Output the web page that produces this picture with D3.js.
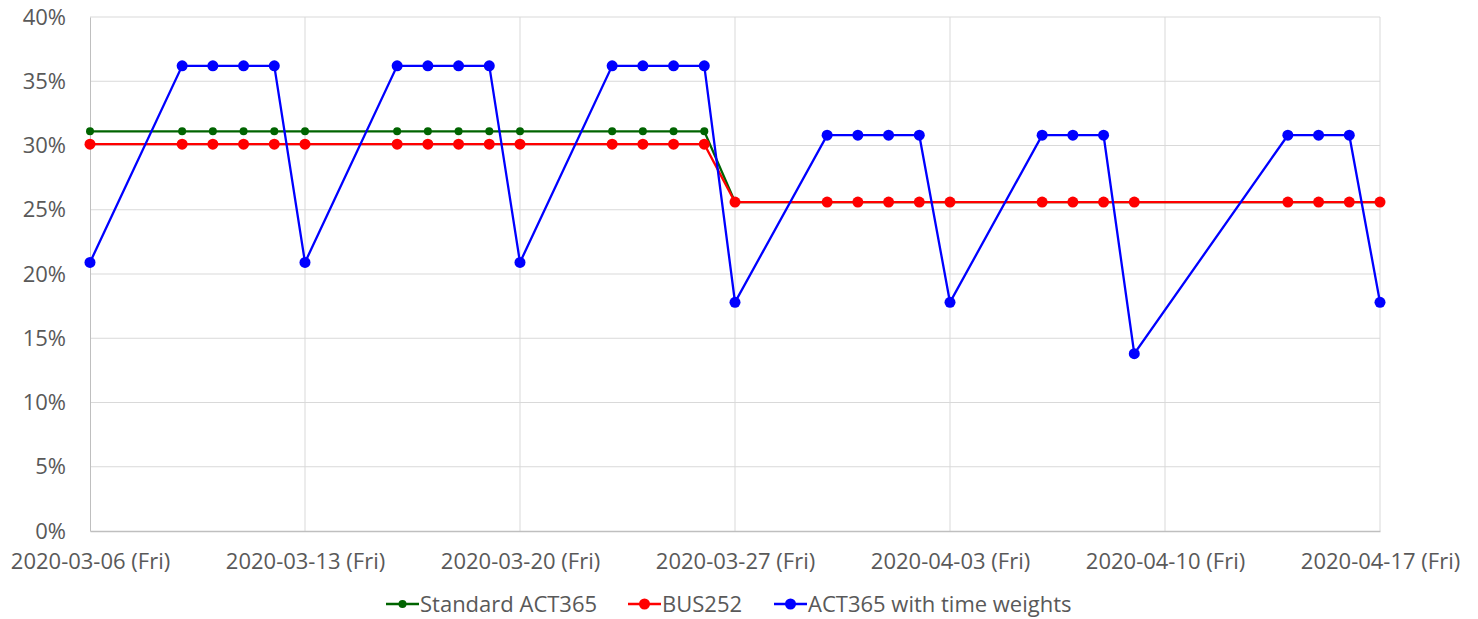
<!DOCTYPE html>
<html>
<head>
<meta charset="utf-8">
<script src="https://cdn.jsdelivr.net/npm/d3@7"></script>
<style>
  body { margin: 0; background: #fff; }
  text { font-family: "Open Sans", Lato, sans-serif; fill: #595959; }
</style>
</head>
<body>
<div id="container"></div>
<script>
// trading days (Good Friday / Easter Monday skipped)
let days = [
  "2020-03-06",
  "2020-03-09", "2020-03-10", "2020-03-11", "2020-03-12", "2020-03-13",
  "2020-03-16", "2020-03-17", "2020-03-18", "2020-03-19", "2020-03-20",
  "2020-03-23", "2020-03-24", "2020-03-25", "2020-03-26", "2020-03-27",
  "2020-03-30", "2020-03-31", "2020-04-01", "2020-04-02", "2020-04-03",
  "2020-04-06", "2020-04-07", "2020-04-08", "2020-04-09",
  "2020-04-14", "2020-04-15", "2020-04-16", "2020-04-17"
];

let standardAct365 = [
  31.1,
  31.1, 31.1, 31.1, 31.1, 31.1,
  31.1, 31.1, 31.1, 31.1, 31.1,
  31.1, 31.1, 31.1, 31.1, 25.6,
  25.6, 25.6, 25.6, 25.6, 25.6,
  25.6, 25.6, 25.6, 25.6,
  25.6, 25.6, 25.6, 25.6
];

let bus252 = [
  30.1,
  30.1, 30.1, 30.1, 30.1, 30.1,
  30.1, 30.1, 30.1, 30.1, 30.1,
  30.1, 30.1, 30.1, 30.1, 25.6,
  25.6, 25.6, 25.6, 25.6, 25.6,
  25.6, 25.6, 25.6, 25.6,
  25.6, 25.6, 25.6, 25.6
];

let act365Weighted = [
  20.9,
  36.2, 36.2, 36.2, 36.2, 20.9,
  36.2, 36.2, 36.2, 36.2, 20.9,
  36.2, 36.2, 36.2, 36.2, 17.8,
  30.8, 30.8, 30.8, 30.8, 17.8,
  30.8, 30.8, 30.8, 13.8,
  30.8, 30.8, 30.8, 17.8
];

let tickDays = ["2020-03-06", "2020-03-13", "2020-03-20", "2020-03-27", "2020-04-03", "2020-04-10", "2020-04-17"];
let yTicks = [0, 5, 10, 15, 20, 25, 30, 35, 40];

let seriesNames = ["Standard ACT365", "BUS252", "ACT365 with time weights"];

let w = 1478;
let h = 619;

let viz = d3.select("#container")
  .append("svg")
  .attr("width", w)
  .attr("height", h)
  .style("background-color", "white");

let parse = d3.timeParse("%Y-%m-%d");
let fmt = d3.timeFormat("%Y-%m-%d (%a)");

let allSeries = [
  { name: seriesNames[0], values: standardAct365, color: "#006400", r: 4 },
  { name: seriesNames[1], values: bus252, color: "#ff0000", r: 5.5 },
  { name: seriesNames[2], values: act365Weighted, color: "#0000ff", r: 5.5 }
];

let xScale = d3.scaleTime()
  .domain([parse(days[0]), parse(days[days.length - 1])])
  .range([90, 1380]);

let yScale = d3.scaleLinear()
  .domain([0, 40])
  .range([531, 17]);

// gridlines
viz.append("g")
  .selectAll("line")
  .data(yTicks.slice(1))
  .enter()
  .append("line")
  .attr("x1", 90)
  .attr("x2", 1380)
  .attr("y1", d => yScale(d))
  .attr("y2", d => yScale(d))
  .attr("stroke", "#d9d9d9")
  .attr("stroke-width", 1);

viz.append("g")
  .selectAll("line")
  .data(tickDays.slice(1))
  .enter()
  .append("line")
  .attr("x1", d => xScale(parse(d)))
  .attr("x2", d => xScale(parse(d)))
  .attr("y1", 17)
  .attr("y2", 531)
  .attr("stroke", "#d9d9d9")
  .attr("stroke-width", 1);

// x axis
let xAxis = viz.append("g")
  .attr("transform", `translate(0, ${yScale(0)})`)
  .call(d3.axisBottom(xScale)
    .tickValues(tickDays.map(parse))
    .tickFormat(fmt)
    .tickSize(0)
    .tickPadding(22));
xAxis.select(".domain").attr("stroke", "#bfbfbf").attr("stroke-width", 1.5);
xAxis.selectAll("text").style("font-size", "22px").attr("fill", "#595959");

// y axis
let yAxis = viz.append("g")
  .attr("transform", "translate(90, 0)")
  .call(d3.axisLeft(yScale)
    .tickValues(yTicks)
    .tickFormat(d => d + "%")
    .tickSize(0)
    .tickPadding(24));
yAxis.select(".domain").attr("stroke", "#bfbfbf").attr("stroke-width", 1);
yAxis.selectAll("text").style("font-size", "22px").attr("fill", "#595959");

let lineMaker = d3.line()
  .x((d, i) => xScale(parse(days[i])))
  .y(d => yScale(d));

allSeries.forEach(s => {
  viz.append("path")
    .datum(s.values)
    .attr("fill", "none")
    .attr("stroke", s.color)
    .attr("stroke-width", 2.3)
    .attr("d", lineMaker);

  viz.append("g")
    .selectAll("circle")
    .data(s.values)
    .enter()
    .append("circle")
    .attr("cx", (d, i) => xScale(parse(days[i])))
    .attr("cy", d => yScale(d))
    .attr("r", s.r)
    .attr("fill", s.color);
});

// legend
let legendX = [386, 628, 774];
let legend = viz.append("g")
  .selectAll("g")
  .data(allSeries)
  .enter()
  .append("g")
  .attr("transform", (d, i) => `translate(${legendX[i]}, 604)`);

legend.append("line")
  .attr("x1", 0).attr("x2", 33)
  .attr("stroke", d => d.color)
  .attr("stroke-width", 2.3);
legend.append("circle")
  .attr("cx", 16.5)
  .attr("r", d => d.r)
  .attr("fill", d => d.color);
legend.append("text")
  .attr("x", 34)
  .attr("dy", "0.35em")
  .style("font-size", "22px")
  .text(d => d.name);
</script>
</body>
</html>
